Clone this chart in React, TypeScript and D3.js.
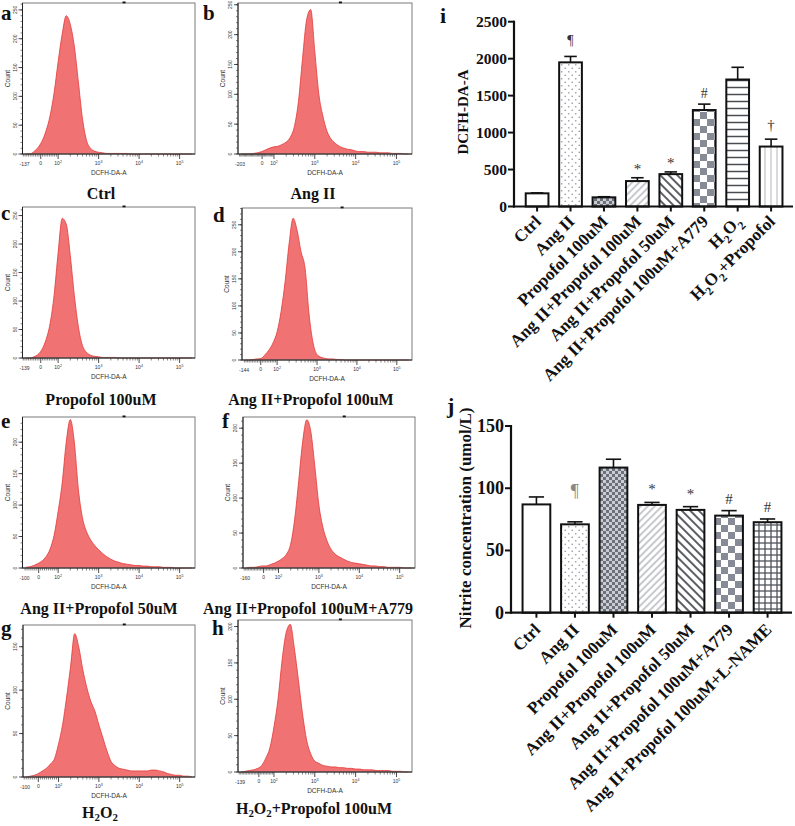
import React from 'react';
import * as d3 from 'd3';

const SERIF = '"Liberation Serif","Times New Roman",serif';
const SANS = '"Liberation Sans",Arial,sans-serif';

// ---------- Flow cytometry histograms (bin centres in log10 display units) ----------
const LOG_BINS = [
  1.2, 1.3, 1.4, 1.5, 1.6, 1.7, 1.8, 1.9, 2.0, 2.1,
  2.2, 2.3, 2.4, 2.5, 2.6, 2.7, 2.8, 2.9, 3.0, 3.1,
  3.2, 3.3, 3.4, 3.5, 3.6, 3.7, 3.8, 3.9, 4.0, 4.1,
  4.2, 4.3, 4.4, 4.5, 4.6, 4.7, 4.8, 4.9, 5.0, 5.1,
  5.2, 5.3,
];
const HIST_CTRL = [
  0, 0, 4, 11, 22, 40, 66, 106, 160, 208,
  240, 225, 187, 125, 62, 24, 10, 5, 3, 2,
  1, 1, 1, 1, 1, 1, 0, 0, 0, 0,
  0, 0, 0, 0, 0, 0, 0, 0, 0, 0,
  0, 0,
];
const HIST_ANGII = [
  0, 0, 0, 1, 2, 4, 7, 10, 12, 13,
  16, 20, 28, 46, 88, 160, 225, 242, 172, 100,
  63, 38, 25, 18, 13, 10, 8, 7, 5, 4,
  4, 3, 3, 3, 2, 2, 2, 1, 1, 1,
  0, 0,
];
const HIST_PROPOFOL = [
  0, 0, 2, 6, 15, 32, 60, 110, 185, 245,
  235, 180, 110, 55, 22, 10, 5, 3, 2, 1,
  1, 1, 1, 0, 0, 0, 0, 0, 0, 0,
  0, 0, 0, 0, 0, 0, 0, 0, 0, 0,
  0, 0,
];
const HIST_ANGII_P100 = [
  0, 0, 1, 2, 3, 10, 19, 32, 52, 90,
  145, 215, 262, 240, 200, 170, 85, 32, 10, 5,
  3, 2, 2, 1, 1, 0, 0, 0, 0, 0,
  0, 0, 0, 0, 0, 0, 0, 0, 0, 0,
  0, 0,
];
const HIST_ANGII_P50 = [
  1, 2, 4, 7, 11, 18, 30, 52, 90, 135,
  200, 236, 200, 125, 80, 58, 45, 36, 29, 23,
  18, 14, 11, 9, 7, 6, 5, 4, 4, 3,
  3, 2, 2, 2, 1, 1, 1, 0, 0, 0,
  0, 0,
];
const HIST_A779 = [
  0, 1, 1, 2, 3, 3, 5, 7, 10, 14,
  20, 34, 70, 125, 182, 212, 195, 145, 90, 58,
  39, 27, 20, 16, 13, 10, 8, 7, 6, 5,
  4, 3, 3, 2, 2, 1, 1, 1, 1, 0,
  0, 0,
];
const HIST_H2O2 = [
  0, 1, 2, 4, 7, 10, 15, 21, 38, 60,
  92, 128, 165, 150, 124, 103, 87, 76, 60, 45,
  30, 18, 13, 10, 9, 8, 7, 7, 7, 7,
  7, 8, 8, 7, 6, 4, 3, 2, 2, 1,
  1, 0,
];
const HIST_H2O2_P = [
  0, 1, 2, 3, 5, 9, 19, 33, 62, 100,
  154, 192, 203, 170, 126, 80, 44, 25, 15, 12,
  9, 8, 7, 7, 6, 6, 5, 5, 4, 4,
  3, 3, 3, 2, 2, 2, 2, 1, 1, 1,
  0, 0,
];
const HIST_TITLES = [
  'Ctrl', 'Ang II', 'Propofol 100uM', 'Ang II+Propofol 100uM',
  'Ang II+Propofol 50uM', 'Ang II+Propofol 100uM+A779', 'H2O2', 'H2O2+Propofol 100uM',
];
const HIST_LETTERS = ['a', 'b', 'c', 'd', 'e', 'f', 'g', 'h'];
const HIST_MIN_LABELS = ['-137', '-203', '-139', '-144', '-100', '-160', '-100', '-139'];
const HIST_ZERO = [1.57, 1.71, 1.57, 1.59, 1.52, 1.63, 1.5, 1.63];
const HIST_YMAX = [262, 253, 265, 281, 240, 216, 175, 209];
const HIST_YTICKS = [
  [0, 50, 100, 150, 200, 250],
  [0, 50, 100, 150, 200, 250],
  [0, 50, 100, 150, 200, 250],
  [0, 50, 100, 150, 200, 250],
  [0, 50, 100, 150, 200],
  [0, 50, 100, 150, 200],
  [0, 50, 100, 150],
  [0, 50, 100, 150, 200],
];
const HIST_XTICK_EXP = [2, 3, 4, 5];

// ---------- panel i ----------
const I_CATEGORIES = [
  'Ctrl', 'Ang II', 'Propofol 100uM', 'Ang II+Propofol 100uM',
  'Ang II+Propofol 50uM', 'Ang II+Propofol 100uM+A779', 'H2O2', 'H2O2+Propofol',
];
const I_MEANS = [178, 1950, 124, 344, 438, 1305, 1718, 811];
const I_ERRORS = [6, 80, 8, 45, 30, 80, 165, 100];
const I_MARKS = ['', '¶', '', '*', '*', '#', '', '†'];
const I_PATTERNS = ['white', 'dots', 'fineChecker', 'lightDiag', 'darkDiag', 'bigChecker', 'hLines', 'vLines'];
const I_YTICKS = [0, 500, 1000, 1500, 2000, 2500];

// ---------- panel j ----------
const J_CATEGORIES = [
  'Ctrl', 'Ang II', 'Propofol 100uM', 'Ang II+Propofol 100uM',
  'Ang II+Propofol 50uM', 'Ang II+Propofol 100uM+A779', 'Ang II+Propofol 100uM+L-NAME',
];
const J_MEANS = [87, 71, 116.6, 86.6, 82.6, 78, 72.7];
const J_ERRORS = [6, 2, 6.7, 2, 2.6, 4, 2.6];
const J_MARKS = ['', '¶', '', '*', '*', '#', '#'];
const J_PATTERNS = ['white', 'dots', 'fineChecker', 'lightDiag', 'darkDiag', 'bigChecker', 'grid'];
const J_YTICKS = [0, 50, 100, 150];

const HIST_DATA = [HIST_CTRL, HIST_ANGII, HIST_PROPOFOL, HIST_ANGII_P100, HIST_ANGII_P50, HIST_A779, HIST_H2O2, HIST_H2O2_P];

// layout of histogram panels
const HIST_BOX = [
  { x: 22.5, y: 3, w: 172.5, h: 151, lx: 1, ly: 20, tx: 101, ty: 193 },
  { x: 238, y: 3, w: 174, h: 151, lx: 203, ly: 20, tx: 313, ty: 193 },
  { x: 22.5, y: 207, w: 172.5, h: 151, lx: 1, ly: 220, tx: 101, ty: 399 },
  { x: 242, y: 208, w: 170, h: 152, lx: 213, ly: 222, tx: 311, ty: 399 },
  { x: 22.5, y: 417, w: 172.5, h: 151, lx: 1, ly: 428, tx: 99, ty: 608 },
  { x: 243, y: 417, w: 172, h: 151, lx: 222, ly: 428, tx: 308, ty: 608 },
  { x: 23, y: 625, w: 172, h: 152, lx: 1, ly: 635, tx: 100, ty: 812 },
  { x: 238, y: 620, w: 174, h: 152, lx: 212, ly: 635, tx: 314, ty: 808 },
];

function renderRich(s: string, fs: number, subShift = 0.3) {
  const toks: { t: string; sub: boolean }[] = [];
  s.split(/(H2O2)/).forEach((p) => {
    if (p === 'H2O2') {
      toks.push({ t: 'H', sub: false }, { t: '2', sub: true }, { t: 'O', sub: false }, { t: '2', sub: true });
    } else if (p) toks.push({ t: p, sub: false });
  });
  let prev = false;
  const off = fs * subShift;
  return toks.map((tk, i) => {
    const dy = tk.sub === prev ? 0 : tk.sub ? off : -off;
    prev = tk.sub;
    return (
      <tspan key={i} dy={dy} fontSize={tk.sub ? fs * 0.68 : fs}>
        {tk.t}
      </tspan>
    );
  });
}

function Histogram({ idx }: { idx: number }) {
  const b = HIST_BOX[idx];
  const counts = HIST_DATA[idx];
  const ymax = HIST_YMAX[idx];
  const xs = d3.scaleLinear().domain([1.12, 5.38]).range([0, b.w]);
  const ys = d3.scaleLinear().domain([0, ymax]).range([b.h, 0]);
  const area = d3
    .area<number>()
    .x((_, i) => xs(LOG_BINS[i]))
    .y0(b.h)
    .y1((d) => ys(Math.min(d, ymax)))
    .curve(d3.curveMonotoneX);
  const line = d3
    .line<number>()
    .x((_, i) => xs(LOG_BINS[i]))
    .y((d) => ys(Math.min(d, ymax)))
    .curve(d3.curveMonotoneX);
  const z = HIST_ZERO[idx];
  const minorX: number[] = [];
  for (let k = 2; k <= 4; k++) for (let m = 2; m <= 9; m++) minorX.push(k + Math.log10(m));
  for (let v = 10; v <= 90; v += 10) minorX.push(z + (v / 100) * (2 - z));
  for (let v = -10; v >= -200; v -= 10) {
    const u = z + (v / 100) * (2 - z);
    if (u > 1.14) minorX.push(u);
  }
  const minorY = d3.range(0, ymax, 10);
  return (
    <g transform={`translate(${b.x},${b.y})`}>
      <path d={area(counts) || ''} fill="#f07272" />
      <path d={line(counts) || ''} fill="none" stroke="#e23a3a" strokeWidth={0.8} />
      <rect x={0} y={0} width={b.w} height={b.h} fill="none" stroke="#7a7a7a" strokeWidth={1} />
      <line x1={0} y1={0} x2={0} y2={b.h} stroke="#222" strokeWidth={1} />
      <line x1={0} y1={b.h} x2={b.w} y2={b.h} stroke="#222" strokeWidth={1} />
      <rect x={b.w * 0.58} y={-1.5} width={3} height={1.8} fill="#111" />
      {minorY.map((t) => (
        <line key={'my' + t} x1={-2} x2={0} y1={ys(t)} y2={ys(t)} stroke="#333" strokeWidth={0.6} />
      ))}
      {HIST_YTICKS[idx].map((t) => (
        <g key={'yt' + t}>
          <line x1={-4} x2={0} y1={ys(t)} y2={ys(t)} stroke="#222" strokeWidth={0.8} />
          <text
            transform={`translate(-6,${ys(t)}) rotate(-90)`}
            textAnchor="middle"
            fontFamily={SANS}
            fontSize={5}
            fill="#333"
          >
            {t}
          </text>
        </g>
      ))}
      <text
        transform={`translate(-13,${b.h / 2}) rotate(-90)`}
        textAnchor="middle"
        fontFamily={SANS}
        fontSize={6.5}
        fill="#333"
      >
        Count
      </text>
      {minorX.map((u, i) => (
        <line key={'mx' + i} x1={xs(u)} x2={xs(u)} y1={b.h} y2={b.h + 2.5} stroke="#333" strokeWidth={0.6} />
      ))}
      {[z, ...HIST_XTICK_EXP].map((u) => (
        <line key={'xt' + u} x1={xs(u)} x2={xs(u)} y1={b.h} y2={b.h + 5} stroke="#222" strokeWidth={0.8} />
      ))}
      <text x={xs(1.17)} y={b.h + 12} textAnchor="middle" fontFamily={SANS} fontSize={5} fill="#333">
        {HIST_MIN_LABELS[idx]}
      </text>
      <text x={xs(z)} y={b.h + 11} textAnchor="middle" fontFamily={SANS} fontSize={5} fill="#333">
        0
      </text>
      {HIST_XTICK_EXP.map((e) => (
        <text key={'xl' + e} x={xs(e)} y={b.h + 11} textAnchor="middle" fontFamily={SANS} fontSize={5} fill="#333">
          10
          <tspan fontSize={3.6} dy={-2.5}>
            {e}
          </tspan>
        </text>
      ))}
      <text x={b.w / 2} y={b.h + 21} textAnchor="middle" fontFamily={SANS} fontSize={6.5} fill="#333">
        DCFH-DA-A
      </text>
    </g>
  );
}

function Patterns() {
  return (
    <defs>
      <pattern id="pat-white" width={4} height={4} patternUnits="userSpaceOnUse">
        <rect width={4} height={4} fill="#fff" />
      </pattern>
      <pattern id="pat-dots" width={7} height={7} patternUnits="userSpaceOnUse">
        <rect width={7} height={7} fill="#fff" />
        <circle cx={1.75} cy={1.75} r={0.85} fill="#9ba0a8" />
        <circle cx={5.25} cy={5.25} r={0.85} fill="#9ba0a8" />
      </pattern>
      <pattern id="pat-fineChecker" width={6} height={6} patternUnits="userSpaceOnUse">
        <rect width={6} height={6} fill="#c9ccd1" />
        <rect x={0} y={0} width={3} height={3} fill="#6b707a" />
        <rect x={3} y={3} width={3} height={3} fill="#6b707a" />
      </pattern>
      <pattern id="pat-lightDiag" width={5} height={5} patternUnits="userSpaceOnUse" patternTransform="rotate(45)">
        <rect width={5} height={5} fill="#fff" />
        <line x1={1} y1={0} x2={1} y2={5} stroke="#b9bcc1" strokeWidth={1.6} />
      </pattern>
      <pattern id="pat-darkDiag" width={6} height={6} patternUnits="userSpaceOnUse" patternTransform="rotate(-45)">
        <rect width={6} height={6} fill="#fff" />
        <line x1={1} y1={0} x2={1} y2={6} stroke="#4a4d52" strokeWidth={1.8} />
      </pattern>
      <pattern id="pat-bigChecker" width={14} height={14} patternUnits="userSpaceOnUse">
        <rect width={14} height={14} fill="#fff" />
        <rect x={0} y={0} width={7} height={7} fill="#868b95" />
        <rect x={7} y={7} width={7} height={7} fill="#868b95" />
      </pattern>
      <pattern id="pat-hLines" width={7} height={7} patternUnits="userSpaceOnUse">
        <rect width={7} height={7} fill="#fff" />
        <line x1={0} y1={3.5} x2={7} y2={3.5} stroke="#4a4d52" strokeWidth={1.5} />
      </pattern>
      <pattern id="pat-vLines" width={6} height={6} patternUnits="userSpaceOnUse">
        <rect width={6} height={6} fill="#fff" />
        <line x1={3} y1={0} x2={3} y2={6} stroke="#c8cacd" strokeWidth={1.4} />
      </pattern>
      <pattern id="pat-grid" width={6} height={6} patternUnits="userSpaceOnUse">
        <rect width={6} height={6} fill="#fff" />
        <line x1={0} y1={3} x2={6} y2={3} stroke="#4f535a" strokeWidth={1.3} />
        <line x1={3} y1={0} x2={3} y2={6} stroke="#4f535a" strokeWidth={1.3} />
      </pattern>
    </defs>
  );
}

type BarProps = {
  cats: string[];
  means: number[];
  errors: number[];
  marks: string[];
  patterns: string[];
  yTicks: number[];
  axisX: number;
  axisRight: number;
  bandRange: [number, number];
  padIn: number;
  padOut: number;
  yTop: number;
  yBase: number;
  tickFs: number;
  labelFs: number;
  markOffsets: Record<string, number>;
  markFs: Record<string, number>;
  markColors: Record<string, string>;
  labelDx: number;
  labelDy: number;
};

function BarChart(p: BarProps) {
  const xb = d3.scaleBand<string>().domain(p.cats).range(p.bandRange).paddingInner(p.padIn).paddingOuter(p.padOut);
  const ymaxTick = p.yTicks[p.yTicks.length - 1];
  const ys = d3.scaleLinear().domain([0, ymaxTick]).range([p.yBase, p.yTop]);
  const bw = xb.bandwidth();
  return (
    <g>
      {p.cats.map((c, i) => {
        const x = xb(c) as number;
        const cx = x + bw / 2;
        const top = ys(p.means[i]);
        const etop = ys(p.means[i] + p.errors[i]);
        const cap = bw * 0.55;
        return (
          <g key={c}>
            <line x1={cx} x2={cx} y1={top} y2={etop} stroke="#111" strokeWidth={1.6} />
            <line x1={cx - cap / 2} x2={cx + cap / 2} y1={etop} y2={etop} stroke="#111" strokeWidth={1.6} />
            <rect
              x={x}
              y={top}
              width={bw}
              height={p.yBase - top}
              fill={`url(#pat-${p.patterns[i]})`}
              stroke="#111"
              strokeWidth={2}
            />
            {p.marks[i] && (
              <text
                x={cx}
                y={etop - p.markOffsets[p.marks[i]]}
                textAnchor="middle"
                dominantBaseline="central"
                fontFamily={SERIF}
                fontSize={p.markFs[p.marks[i]]}
                fill={p.markColors[p.marks[i]] || '#333'}
              >
                {p.marks[i]}
              </text>
            )}
            <line x1={cx} x2={cx} y1={p.yBase} y2={p.yBase + 5} stroke="#111" strokeWidth={2} />
            <text
              transform={`translate(${cx + p.labelDx},${p.yBase + p.labelDy}) rotate(-45)`}
              textAnchor="end"
              fontFamily={SERIF}
              fontWeight="bold"
              fontSize={p.labelFs}
              fill="#111"
            >
              {renderRich(c, p.labelFs)}
            </text>
          </g>
        );
      })}
      <line x1={p.axisX} x2={p.axisX} y1={p.yTop - 1} y2={p.yBase + 1} stroke="#111" strokeWidth={2.2} />
      <line x1={p.axisX - 1} x2={p.axisRight} y1={p.yBase} y2={p.yBase} stroke="#111" strokeWidth={2.2} />
      {p.yTicks.map((t) => (
        <g key={t}>
          <line x1={p.axisX - 6} x2={p.axisX} y1={ys(t)} y2={ys(t)} stroke="#111" strokeWidth={2} />
          <text
            x={p.axisX - 7}
            y={ys(t)}
            textAnchor="end"
            dominantBaseline="central"
            fontFamily={SERIF}
            fontWeight="bold"
            fontSize={p.tickFs}
            fill="#111"
          >
            {t}
          </text>
        </g>
      ))}
    </g>
  );
}

export default function App() {
  return (
    <div style={{ position: 'absolute', left: 0, top: 0 }}>
      <svg width={795} height={826} viewBox="0 0 795 826" style={{ display: 'block', background: '#fff' }}>
        <Patterns />
        <rect width={795} height={826} fill="#fff" />
        {HIST_DATA.map((_, i) => (
          <Histogram key={i} idx={i} />
        ))}
        {HIST_BOX.map((b, i) => (
          <g key={'lab' + i}>
            <text x={b.lx} y={b.ly} fontFamily={SERIF} fontWeight="bold" fontSize={21} fill="#111">
              {HIST_LETTERS[i]}
            </text>
            <text
              x={b.tx}
              y={b.ty + 5.5}
              textAnchor="middle"
              fontFamily={SERIF}
              fontWeight="bold"
              fontSize={16}
              fill="#111"
            >
              {renderRich(HIST_TITLES[i], 16, 0.2)}
            </text>
          </g>
        ))}

        {/* panel i */}
        <text x={440} y={23} fontFamily={SERIF} fontWeight="bold" fontSize={22} fill="#111">
          i
        </text>
        <text
          transform="translate(463,112) rotate(-90)"
          textAnchor="middle"
          dominantBaseline="central"
          fontFamily={SERIF}
          fontWeight="bold"
          fontSize={15}
          fill="#111"
        >
          DCFH-DA-A
        </text>
        <BarChart
          cats={I_CATEGORIES}
          means={I_MEANS}
          errors={I_ERRORS}
          marks={I_MARKS}
          patterns={I_PATTERNS}
          yTicks={I_YTICKS}
          axisX={514}
          axisRight={793}
          bandRange={[515.7, 792.5]}
          padIn={0.32}
          padOut={0.3}
          yTop={21.7}
          yBase={206.5}
          tickFs={15.5}
          labelFs={17.2}
          markOffsets={{ '¶': 16, '*': 9, '#': 11, '†': 14 }}
          markFs={{ '¶': 14, '*': 15, '#': 14, '†': 15 }}
          markColors={{}}
          labelDx={5}
          labelDy={16}
        />

        {/* panel j */}
        <text x={447} y={413} fontFamily={SERIF} fontWeight="bold" fontSize={22} fill="#111">
          j
        </text>
        <text
          transform="translate(465,518) rotate(-90)"
          textAnchor="middle"
          dominantBaseline="central"
          fontFamily={SERIF}
          fontWeight="bold"
          fontSize={17}
          fill="#111"
        >
          Nitrite concentration (umol/L)
        </text>
        <BarChart
          cats={J_CATEGORIES}
          means={J_MEANS}
          errors={J_ERRORS}
          marks={J_MARKS}
          patterns={J_PATTERNS}
          yTicks={J_YTICKS}
          axisX={511}
          axisRight={792}
          bandRange={[511, 793]}
          padIn={0.28}
          padOut={0.3}
          yTop={426}
          yBase={612.7}
          tickFs={18}
          labelFs={17.2}
          markOffsets={{ '¶': 31, '*': 13, '#': 12 }}
          markFs={{ '¶': 18, '*': 15, '#': 15 }}
          markColors={{ '¶': '#888' }}
          labelDx={5}
          labelDy={18}
        />
      </svg>
    </div>
  );
}
